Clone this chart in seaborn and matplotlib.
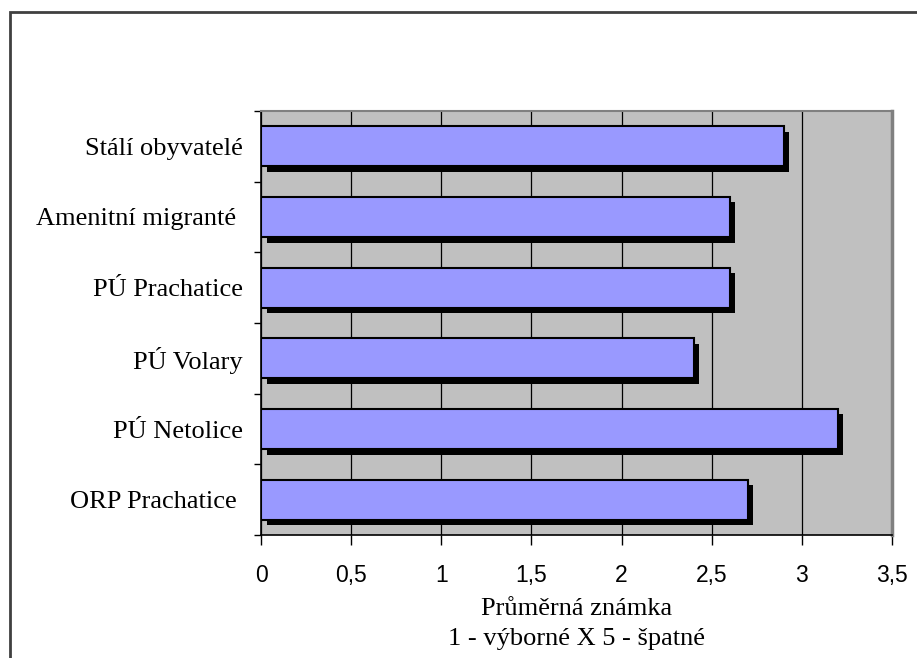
import matplotlib
matplotlib.use("Agg")
import matplotlib.pyplot as plt
import matplotlib.patheffects as pe
from matplotlib.patches import Rectangle
import seaborn as sns
import pandas as pd

categories = ["Stálí obyvatelé", "Amenitní migranté ", "PÚ Prachatice", "PÚ Volary", "PÚ Netolice", "ORP Prachatice "]
values = [2.9, 2.6, 2.6, 2.4, 3.2, 2.7]
xticks = [0, 0.5, 1, 1.5, 2, 2.5, 3, 3.5]
xticklabels = ["0", "0,5", "1", "1,5", "2", "2,5", "3", "3,5"]
xlabel = "Průměrná známka\n1 - výborné X 5 - špatné"

sns.set_style("white")
plt.rcParams.update({"text.color": "black", "axes.labelcolor": "black",
                     "xtick.color": "black", "ytick.color": "black"})
df = pd.DataFrame({"cat": categories, "val": values})

fig = plt.figure(figsize=(9.17, 6.58), dpi=100)
ax = fig.add_axes([261/917, 1-535/658, (892-261)/917, (535-111)/658])
ax.set_facecolor("#C0C0C0")

sns.barplot(data=df, x="val", y="cat", orient="h", color="#9999FF", saturation=1,
            edgecolor="black", linewidth=1.5, width=0.57, ax=ax, zorder=3)
for p in ax.patches:
    p.set_path_effects([pe.SimplePatchShadow(offset=(4, -4), shadow_rgbFace="black", alpha=1.0), pe.Normal()])

ax.set_xlim(0, 3.5)
ax.set_ylim(5.5, -0.5)
ax.set_xticks(xticks)
ax.set_xticklabels(xticklabels, fontfamily="Liberation Sans", fontsize=16.5, color="black")
ax.set_yticks(range(len(categories)))
ax.set_yticklabels(categories, fontfamily="Liberation Serif", fontsize=19, color="black")
ax.set_yticks([i - 0.5 for i in range(len(categories) + 1)], minor=True)
ax.tick_params(axis="y", which="major", length=0, pad=13)
ax.tick_params(axis="y", which="minor", length=5, width=1, direction="out", color="black", left=True)
ax.tick_params(axis="x", which="major", length=7, width=1, direction="out", color="black", bottom=True, pad=14)
ax.grid(axis="x", color="black", linewidth=0.9, zorder=1)
ax.set_axisbelow(True)
ax.set_ylabel("")
ax.set_xlabel(xlabel, fontfamily="Liberation Serif", fontsize=19, linespacing=1.45, labelpad=8, color="black")

for s in ["left", "bottom"]:
    ax.spines[s].set_visible(True)
    ax.spines[s].set_color("black")
    ax.spines[s].set_linewidth(1.2)
ax.spines["top"].set_visible(True)
ax.spines["top"].set_color("#808080")
ax.spines["top"].set_linewidth(1.5)
ax.spines["right"].set_visible(True)
ax.spines["right"].set_color("#808080")
ax.spines["right"].set_linewidth(2.5)

fig.patches.append(Rectangle((10/917, -0.1), 1.1, 1 - 12/658 + 0.1, transform=fig.transFigure,
                             fill=False, edgecolor="#404040", linewidth=2, clip_on=False))

fig.savefig("out.png", dpi=100)
